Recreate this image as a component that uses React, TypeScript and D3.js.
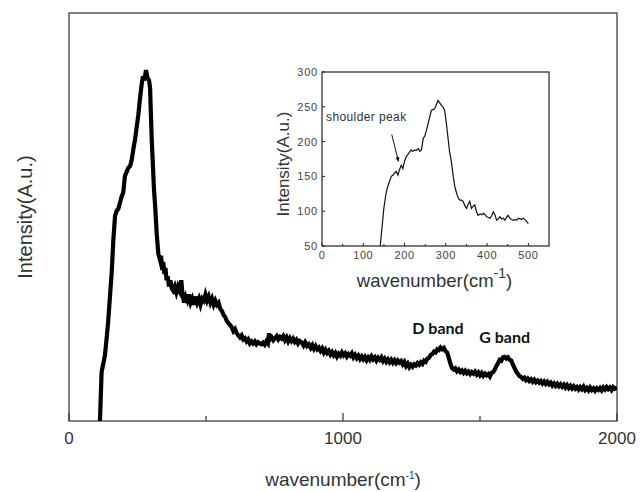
import React from "react";
import * as d3 from "d3";

// ---------- DATA ----------
// main Raman spectrum: [wavenumber (cm^-1), intensity (a.u., 0-100)]
const mainSpectrum: [number, number][] = [
  [113, 0], [116, 6], [119, 12], [125, 14], [131, 16], [137, 20], [143, 24.4], [150, 31], [156, 36.6],
  [162, 44.6], [168, 50.2], [174, 51.5], [180, 52], [186, 53.5], [192, 55], [198, 56], [204, 60],
  [210, 61], [216, 62], [223, 62.5], [229, 64], [235, 66.7], [241, 69], [247, 72], [253, 75], [259, 79],
  [265, 82.4], [270, 84.5], [275, 83.5], [281, 86], [287, 84], [292, 83.5], [296, 81.6], [299, 75],
  [302, 69], [306, 63], [310, 57], [315, 52], [320, 46], [326, 41], [332, 39.5], [336, 40.5], [340, 37],
  [344, 39], [348, 36], [352, 37.5], [356, 34.5], [360, 35.5], [365, 33], [370, 34.5], [375, 32.5],
  [380, 32], [386, 33], [392, 31.5], [398, 33], [404, 32], [410, 34.5], [414, 31], [420, 29], [426, 30.5],
  [432, 29.5], [438, 31], [444, 29], [450, 30], [456, 28.5], [462, 30.5], [468, 29], [474, 30], [480, 28.5],
  [486, 30], [492, 29.5], [498, 31], [504, 29.5], [510, 30.5], [516, 29], [522, 30], [528, 28.5], [534, 29.5],
  [540, 28.5], [546, 29], [552, 27.5], [558, 27], [564, 26], [570, 25.5], [576, 24.5], [582, 24], [588, 23.5],
  [594, 23], [600, 22], [606, 22.5], [612, 21.5], [618, 21], [624, 20.5], [630, 21], [636, 20], [642, 20.3],
  [648, 19.5], [654, 20], [660, 19], [666, 19.5], [672, 19], [678, 19.5], [684, 18.8], [690, 19.3], [696, 19],
  [702, 18.8], [708, 19.2], [714, 18.7], [720, 19.5], [726, 19], [730, 21.5], [734, 20], [740, 20.5],
  [746, 19.8], [752, 20.3], [758, 20.8], [764, 20], [770, 20.6], [776, 20.2], [782, 20.8], [788, 19.8],
  [794, 20.5], [800, 19.5], [806, 20.3], [812, 19.6], [818, 20.2], [824, 19.4], [830, 19.9], [836, 19],
  [842, 19.6], [850, 19.2], [856, 18.5], [862, 19.3], [869, 18.4], [875, 18.8], [882, 17.9], [888, 18.6],
  [894, 17.7], [900, 18.4], [906, 17.6], [912, 18], [918, 17.2], [924, 17.8], [930, 16.8], [936, 17.5],
  [942, 16.7], [948, 17.2], [954, 16.3], [960, 16.9], [966, 16.1], [972, 16.7], [978, 15.8], [984, 16.5],
  [990, 16], [996, 16.8], [1002, 16.1], [1008, 16.6], [1014, 15.8], [1020, 16.4], [1026, 16], [1032, 16.6],
  [1038, 15.6], [1044, 16.2], [1050, 15.4], [1056, 16], [1062, 15.2], [1068, 15.8], [1074, 15.1],
  [1080, 15.7], [1086, 14.9], [1092, 15.6], [1098, 15], [1104, 15.8], [1110, 15.1], [1116, 15.6],
  [1122, 14.8], [1128, 15.5], [1134, 15], [1140, 15.6], [1146, 14.7], [1152, 15.3], [1158, 14.5],
  [1164, 15.1], [1170, 14.4], [1176, 15], [1182, 14.3], [1188, 14.9], [1194, 14.2], [1200, 14.8],
  [1206, 14.3], [1212, 14.7], [1218, 13.9], [1224, 14.5], [1230, 13.5], [1236, 14.1], [1242, 13.2],
  [1248, 13.8], [1254, 13.3], [1260, 13.9], [1266, 13.6], [1272, 14.2], [1278, 13.8], [1284, 14.4],
  [1290, 14], [1296, 14.8], [1302, 14.5], [1308, 15.3], [1314, 15.5], [1320, 16.2], [1326, 16.4],
  [1332, 17], [1338, 16.8], [1344, 17.6], [1350, 17.4], [1356, 18], [1362, 17.6], [1368, 17.9],
  [1374, 17.1], [1380, 16.8], [1386, 15.5], [1392, 14], [1398, 13], [1404, 12.6], [1410, 12.9],
  [1416, 12.2], [1422, 12.6], [1428, 12], [1434, 12.4], [1440, 11.8], [1446, 12.3], [1452, 11.7],
  [1458, 12.1], [1464, 11.5], [1470, 12], [1476, 11.6], [1482, 12.1], [1488, 11.4], [1494, 11.9],
  [1500, 11.2], [1506, 11.8], [1512, 11.1], [1518, 11.6], [1524, 11.2], [1530, 11.5], [1536, 10.9],
  [1542, 11.8], [1548, 12], [1554, 12.6], [1560, 13.5], [1566, 14.2], [1572, 15], [1578, 14.8],
  [1584, 15.6], [1590, 15.7], [1596, 15.3], [1602, 15.6], [1608, 15], [1614, 14.8], [1620, 13.8],
  [1626, 13], [1632, 12.1], [1638, 11.6], [1644, 11], [1650, 10.8], [1656, 10.3], [1662, 10.6],
  [1668, 10], [1674, 10.4], [1680, 9.8], [1686, 10.2], [1692, 9.6], [1698, 10.1], [1704, 9.5],
  [1710, 9.9], [1716, 9.4], [1722, 9.8], [1728, 9.2], [1734, 9.7], [1740, 9.1], [1746, 9.6], [1752, 9],
  [1758, 9.4], [1764, 8.7], [1770, 9.2], [1776, 8.6], [1782, 9.1], [1788, 8.5], [1794, 9], [1800, 8.4],
  [1806, 8.9], [1812, 8.2], [1818, 8.8], [1824, 8.1], [1830, 8.6], [1836, 8], [1842, 8.5], [1848, 7.9],
  [1854, 8.3], [1860, 7.7], [1866, 8.3], [1872, 7.8], [1878, 8.4], [1884, 7.6], [1890, 8.1], [1896, 7.5],
  [1902, 8.2], [1908, 7.6], [1914, 8], [1920, 7.4], [1926, 8], [1932, 7.6], [1938, 8.1], [1944, 7.5],
  [1950, 8.2], [1956, 7.7], [1962, 8.3], [1968, 7.8], [1974, 8.2], [1980, 7.6], [1986, 8.3], [1992, 7.9],
  [2000, 8.2],
];

// inset spectrum (low wavenumber region): [wavenumber, intensity]
const insetSpectrum: [number, number][] = [
  [141, 50], [146, 80], [150, 105], [155, 125], [158, 133], [163, 142], [168, 150], [172, 152],
  [176, 155], [180, 157], [184, 152], [188, 160], [192, 166], [196, 161], [200, 172], [204, 178],
  [210, 183], [216, 188], [220, 186], [224, 188], [228, 187], [233, 190], [237, 186], [241, 188],
  [245, 204], [249, 208], [253, 216], [258, 228], [262, 238], [265, 245], [269, 246], [273, 247],
  [277, 253], [281, 259], [285, 256], [289, 252], [293, 250], [297, 245], [301, 228], [305, 207],
  [309, 186], [314, 169], [318, 150], [322, 135], [327, 124], [331, 118], [334, 116], [338, 116],
  [342, 114], [346, 108], [350, 104], [354, 110], [358, 114], [362, 104], [366, 107], [370, 109],
  [374, 100], [378, 94], [383, 96], [387, 95], [391, 97], [395, 95], [399, 92], [403, 91], [407, 90],
  [411, 93], [415, 99], [419, 95], [423, 87], [427, 89], [431, 92], [435, 89], [439, 90], [443, 87],
  [447, 91], [451, 94], [455, 90], [459, 88], [464, 87], [468, 88], [472, 87], [476, 90], [480, 89],
  [484, 88], [488, 90], [492, 88], [496, 85], [500, 82],
];

const mainXTicks = [0, 1000, 2000];
const mainXMinor = [500, 1500];
const insetXTicks = [0, 100, 200, 300, 400, 500];
const insetXMinor = [50, 150, 250, 350, 450];
const insetYTicks = [50, 100, 150, 200, 250, 300];

const bandLabels = [
  { text: "D band", x: 1253, y: 21.4 },
  { text: "G band", x: 1497, y: 19 },
];

// ---------- LAYOUT ----------
const W = 643;
const H = 492;
const main = { left: 69, right: 617, top: 13, bottom: 421 };
const inset = { left: 322, right: 549, top: 72, bottom: 246 };

export default function App() {
  const x = d3.scaleLinear().domain([0, 2000]).range([main.left, main.right]);
  const y = d3.scaleLinear().domain([0, 100]).range([main.bottom, main.top]);
  const ix = d3.scaleLinear().domain([0, 550]).range([inset.left, inset.right]);
  const iy = d3.scaleLinear().domain([50, 300]).range([inset.bottom, inset.top]);

  const mainLine = d3
    .line<[number, number]>()
    .x((d) => x(d[0]))
    .y((d) => y(d[1]));
  const insetLine = d3
    .line<[number, number]>()
    .x((d) => ix(d[0]))
    .y((d) => iy(d[1]));

  const font = "'Liberation Sans', Arial, sans-serif";

  // arrow for shoulder peak
  const a0 = [ix(169), iy(210)];
  const a1 = [ix(185), iy(172)];

  return (
    <svg
      width={W}
      height={H}
      style={{ position: "fixed", left: 0, top: 0, background: "#fff" }}
      fontFamily={font}
    >
      <defs>
        <clipPath id="mainClip">
          <rect x={main.left} y={main.top} width={main.right - main.left} height={main.bottom - main.top} />
        </clipPath>
        <marker id="arrowHead" viewBox="0 0 10 10" refX="8" refY="5" markerWidth="5" markerHeight="5" orient="auto">
          <path d="M0,1 L10,5 L0,9 z" fill="#111" />
        </marker>
      </defs>

      {/* main frame */}
      <rect
        x={main.left}
        y={main.top}
        width={main.right - main.left}
        height={main.bottom - main.top}
        fill="none"
        stroke="#333"
        strokeWidth={1.2}
      />
      {mainXTicks.map((t) => (
        <g key={"mt" + t}>
          <line x1={x(t)} x2={x(t)} y1={main.bottom} y2={main.bottom - 8} stroke="#333" strokeWidth={1.2} />
          <text x={x(t)} y={444} textAnchor="middle" fontSize={17} fill="#333">
            {t}
          </text>
        </g>
      ))}
      {mainXMinor.map((t) => (
        <line key={"mm" + t} x1={x(t)} x2={x(t)} y1={main.bottom} y2={main.bottom - 5} stroke="#333" strokeWidth={1.2} />
      ))}

      {/* main axis titles */}
      <text x={x(1000)} y={486} textAnchor="middle" fontSize={19} fill="#333">
        wavenumber(cm
        <tspan dy={-7} fontSize={10}>-1</tspan>
        <tspan dy={7}>)</tspan>
      </text>
      <text
        transform={`translate(32, 217) rotate(-90)`}
        textAnchor="middle"
        fontSize={20}
        fill="#333"
      >
        Intensity(A.u.)
      </text>

      {/* main spectrum */}
      <path
        d={mainLine(mainSpectrum) || ""}
        fill="none"
        stroke="#000"
        strokeWidth={4.2}
        strokeLinejoin="miter"
        clipPath="url(#mainClip)"
      />

      {bandLabels.map((b) => (
        <text
          key={b.text}
          x={x(b.x)}
          y={y(b.y)}
          fontSize={16}
          fontWeight="bold"
          fill="#111"
          fontFamily="Lato, 'Open Sans', sans-serif"
        >
          {b.text}
        </text>
      ))}

      {/* inset */}
      <rect
        x={inset.left}
        y={inset.top}
        width={inset.right - inset.left}
        height={inset.bottom - inset.top}
        fill="#fff"
        stroke="#222"
        strokeWidth={1.2}
      />
      {insetXTicks.map((t) => (
        <g key={"ix" + t}>
          <line x1={ix(t)} x2={ix(t)} y1={inset.bottom} y2={inset.bottom - 3} stroke="#222" />
          <text x={ix(t)} y={259} textAnchor="middle" fontSize={11} letterSpacing={0.6} fill="#444">
            {t}
          </text>
        </g>
      ))}
      {insetXMinor.map((t) => (
        <line key={"ixm" + t} x1={ix(t)} x2={ix(t)} y1={inset.bottom} y2={inset.bottom - 2} stroke="#222" />
      ))}
      {insetYTicks.map((t) => (
        <g key={"iy" + t}>
          <line x1={inset.left} x2={inset.left + 3} y1={iy(t)} y2={iy(t)} stroke="#222" />
          <text x={inset.left - 4} y={iy(t) + 4} textAnchor="end" fontSize={11} letterSpacing={0.8} fill="#444">
            {t}
          </text>
        </g>
      ))}
      <text x={(inset.left + inset.right) / 2 - 1} y={287} textAnchor="middle" fontSize={18.5} fill="#333">
        wavenumber(cm
        <tspan dy={-9} fontSize={14}>-1</tspan>
        <tspan dy={9}>)</tspan>
      </text>
      <text
        transform={`translate(289, 164) rotate(-90)`}
        textAnchor="middle"
        fontSize={17}
        fill="#333"
      >
        Intensity(A.u.)
      </text>

      <path d={insetLine(insetSpectrum) || ""} fill="none" stroke="#111" strokeWidth={1.2} />

      <text x={326} y={121} fontSize={12} letterSpacing={0.4} fill="#333">
        shoulder peak
      </text>
      <line
        x1={a0[0]}
        y1={a0[1]}
        x2={a1[0]}
        y2={a1[1]}
        stroke="#111"
        strokeWidth={1}
        markerEnd="url(#arrowHead)"
      />
    </svg>
  );
}
